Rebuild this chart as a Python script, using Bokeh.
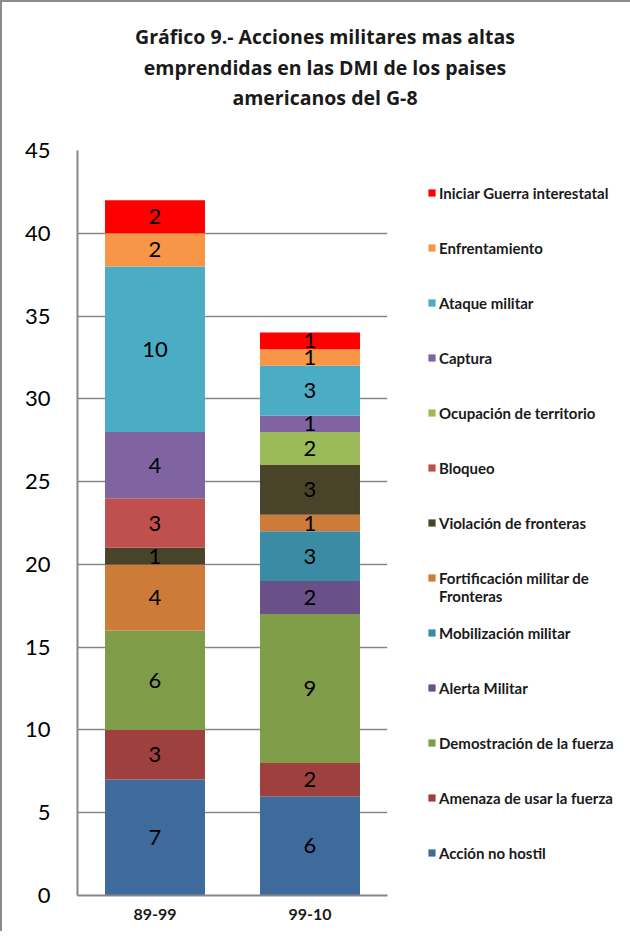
import numpy as np
from bokeh.plotting import figure
from bokeh.layouts import column, row
from bokeh.models import (ColumnDataSource, FactorRange, Range1d, FixedTicker,
                          Legend, LegendItem, Div)
from bokeh.core.properties import value
from bokeh.embed import file_html
from bokeh.resources import INLINE

# ---------------- data ----------------
periods = ["89-99", "99-10"]

series_names = [
    "Acción no hostil",
    "Amenaza de usar la fuerza",
    "Demostración de la fuerza",
    "Alerta Militar",
    "Mobilización militar",
    "\nFortificación militar de\nFronteras",
    "Violación de fronteras",
    "Bloqueo",
    "Ocupación de territorio",
    "Captura",
    "Ataque militar",
    "Enfrentamiento",
    "Iniciar Guerra interestatal",
]

accion_no_hostil = [7, 6]
amenaza_fuerza = [3, 2]
demostracion_fuerza = [6, 9]
alerta_militar = [0, 2]
mobilizacion_militar = [0, 3]
fortificacion_fronteras = [4, 1]
violacion_fronteras = [1, 3]
bloqueo = [3, 0]
ocupacion_territorio = [0, 2]
captura = [4, 1]
ataque_militar = [10, 3]
enfrentamiento = [2, 1]
guerra_interestatal = [2, 1]

series_values = [
    accion_no_hostil, amenaza_fuerza, demostracion_fuerza, alerta_militar,
    mobilizacion_militar, fortificacion_fronteras, violacion_fronteras, bloqueo,
    ocupacion_territorio, captura, ataque_militar, enfrentamiento,
    guerra_interestatal,
]

series_colors = [
    "#3F6A9C", "#9E403D", "#7F9D49", "#6A5088", "#3A8CA4", "#CD7B38",
    "#494429", "#C0504D", "#9BBB59", "#8064A2", "#4BACC6", "#F79646",
    "#FF0000",
]

y_ticks = [0, 5, 10, 15, 20, 25, 30, 35, 40, 45]

title_lines = [
    "Gráfico 9.- Acciones militares mas altas",
    "emprendidas en las DMI de los paises",
    "americanos del G-8",
]

FONT = "Lato"
TITLE_FONT = "Open Sans"

# ---------------- title ----------------
title_div = Div(
    text=("<div style='width:628px; box-sizing:border-box; padding-top:20px; "
          "padding-left:18px; text-align:center; "
          f"font-family:\"{TITLE_FONT}\"; font-weight:bold; font-size:19.5px; "
          "line-height:30.5px; color:#1a1a1a;'>" + "<br>".join(title_lines) + "</div>"),
    width=628, height=120, margin=(0, 0, 0, 0),
)

# ---------------- chart ----------------
keys = [f"s{i}" for i in range(len(series_names))]
data = {"period": periods}
for k, v in zip(keys, series_values):
    data[k] = v
source = ColumnDataSource(data)

p = figure(
    x_range=FactorRange(*periods),
    y_range=Range1d(0, 45),
    width=398, height=809,
    output_backend="svg",
    toolbar_location=None,
    min_border_left=75, min_border_right=13,
    min_border_top=28, min_border_bottom=36,
)
p.title.text = ""
p.outline_line_color = None
p.background_fill_color = "white"
p.border_fill_color = "white"

renderers = p.vbar_stack(keys, x="period", width=0.645, color=series_colors,
                         line_color=None, source=source)

# value labels
lx, ly, lt = [], [], []
for j, per in enumerate(periods):
    base = 0
    for vals in series_values:
        v = vals[j]
        if v > 0:
            lx.append(per)
            ly.append(base + v / 2)
            lt.append(str(v))
        base += v
p.text(x=lx, y=ly, text=lt, text_align="center", text_baseline="middle",
       text_font=value(FONT), text_font_size="22px", text_color="black")

# axes
p.yaxis.ticker = FixedTicker(ticks=y_ticks)
p.yaxis.axis_line_color = "#868686"
p.yaxis.axis_line_width = 2
p.yaxis.major_tick_line_color = None
p.yaxis.minor_tick_line_color = None
p.yaxis.major_label_standoff = 21
p.yaxis.major_label_text_font = FONT
p.yaxis.major_label_text_font_size = "22px"
p.yaxis.major_label_text_color = "black"

p.xaxis.axis_line_color = "#868686"
p.xaxis.axis_line_width = 2
p.xaxis.major_tick_line_color = None
p.xaxis.major_label_standoff = 7
p.xaxis.major_label_text_font = FONT
p.xaxis.major_label_text_font_size = "16px"
p.xaxis.major_label_text_font_style = "bold"
p.xaxis.major_label_text_color = "#1a1a1a"

p.xgrid.grid_line_color = None
p.ygrid.ticker = FixedTicker(ticks=y_ticks)
p.ygrid.grid_line_color = "#868686"
p.ygrid.grid_line_width = 1.5

# ---------------- legend panel ----------------
pl = figure(
    x_range=Range1d(0, 1), y_range=Range1d(0, 1),
    width=230, height=809,
    output_backend="svg", toolbar_location=None,
    x_axis_type=None, y_axis_type=None,
    min_border_left=0, min_border_right=0,
    min_border_top=28, min_border_bottom=36,
)
pl.title.text = ""
pl.outline_line_color = None
pl.grid.visible = False
pl.background_fill_color = "white"
pl.border_fill_color = "white"

# legend swatch proxies (no visible data)
swatches = [pl.vbar(x=np.array([np.nan]), top=np.array([np.nan]), width=1,
                    color=c, line_color=None)
            for c in series_colors]

items = [LegendItem(label=name, renderers=[r])
         for name, r in zip(series_names, swatches)][::-1]
legend = Legend(items=items, location="center_left", padding=0, margin=27,
                border_line_color=None, background_fill_alpha=0,
                glyph_width=9, glyph_height=9, label_standoff=3,
                label_height=54, spacing=1,
                label_text_font=FONT, label_text_font_size="15px",
                label_text_line_height=1.0,
                label_text_font_style="bold", label_text_color="#1a1a1a")
pl.add_layout(legend)

layout = column(title_div, row(p, pl, spacing=0), spacing=0)
layout.styles = {"border-left": "2px solid #8c8c8c", "border-top": "2px solid #8c8c8c"}

open("out.html", "w").write(file_html(layout, INLINE))
